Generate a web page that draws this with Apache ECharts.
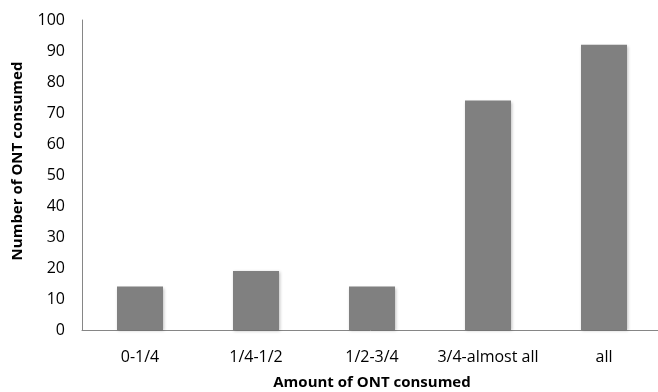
<!DOCTYPE html>
<html>
<head>
<meta charset="utf-8">
<script src="https://cdn.jsdelivr.net/npm/echarts@6/dist/echarts.min.js"></script>
<style>
  html, body { margin: 0; padding: 0; background: #fff; }
  #chart { width: 658px; height: 392px; }
</style>
</head>
<body>
<div id="chart"></div>
<script>
// Portions of ONT consumed and how many fell into each
const categories = ['0-1/4', '1/4-1/2', '1/2-3/4', '3/4-almost all', 'all'];
const counts = [14, 19, 14, 74, 92];
const yTicks = { min: 0, max: 100, interval: 10 };

const font = '"Open Sans", sans-serif';
const chart = echarts.init(document.getElementById('chart'), null, { renderer: 'canvas' });

chart.setOption({
  animation: false,
  backgroundColor: '#ffffff',
  grid: { left: 82, top: 20, width: 580, height: 310, containLabel: false, outerBoundsMode: 'none' },
  xAxis: {
    type: 'category',
    data: categories,
    name: 'Amount of ONT consumed',
    nameLocation: 'middle',
    nameGap: 45,
    nameTextStyle: { fontFamily: font, fontWeight: 'bold', fontSize: 15, color: '#000' },
    axisLine: { lineStyle: { color: '#868686', width: 1 } },
    axisTick: { show: false },
    axisLabel: { interval: 0, fontFamily: font, fontSize: 16, color: '#000', margin: 19 }
  },
  yAxis: {
    type: 'value',
    min: yTicks.min,
    max: yTicks.max,
    interval: yTicks.interval,
    name: 'Number of ONT consumed',
    nameLocation: 'middle',
    nameGap: 57,
    nameTextStyle: { fontFamily: font, fontWeight: 'bold', fontSize: 15, color: '#000', padding: [0, 0, 0, 28] },
    axisLine: { show: true, lineStyle: { color: '#868686', width: 1 } },
    axisTick: { show: false },
    splitLine: { show: false },
    axisLabel: { fontFamily: font, fontSize: 16, color: '#000', margin: 17 }
  },
  series: [{
    type: 'bar',
    data: counts,
    barWidth: 46,
    itemStyle: {
      color: '#808080',
      shadowColor: 'rgba(0,0,0,0.25)',
      shadowBlur: 3,
      shadowOffsetX: 1,
      shadowOffsetY: 1
    }
  }]
});
</script>
</body>
</html>
